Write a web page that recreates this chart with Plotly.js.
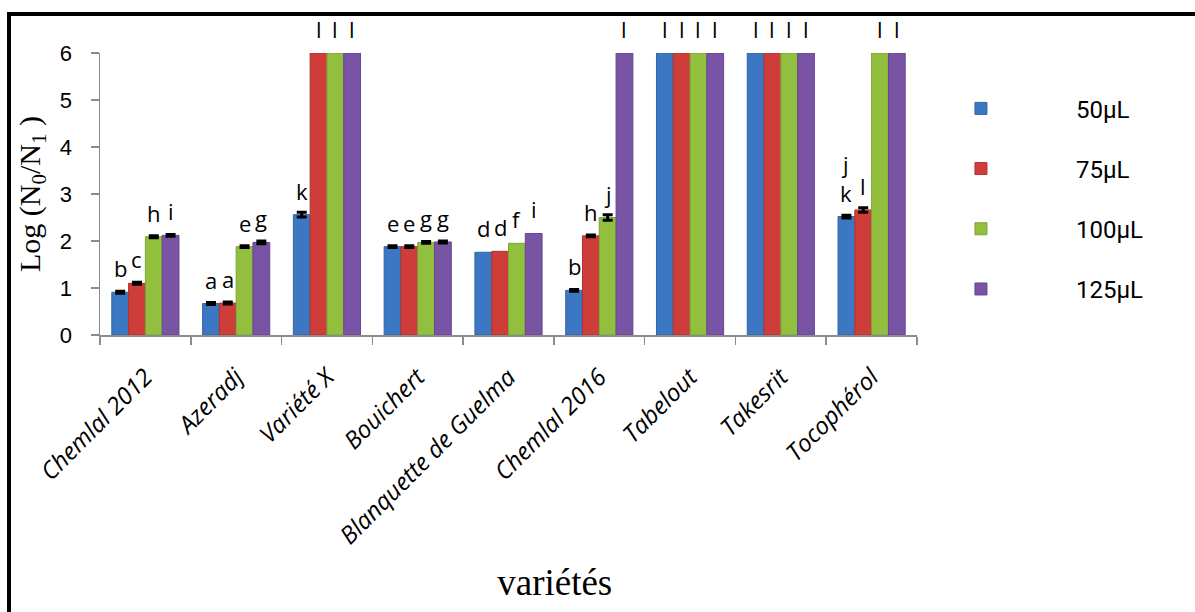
<!DOCTYPE html>
<html>
<head>
<meta charset="utf-8">
<script src="https://cdn.plot.ly/plotly-3.0.1.min.js"></script>
<style>
  html, body { margin: 0; padding: 0; background: #fff; overflow: hidden; }
  #chart { width: 1195px; height: 612px; }
  #frame { position: absolute; left: 7px; top: 12px; width: 1400px; height: 900px;
           border-left: 4px solid #000; border-top: 4px solid #000; pointer-events: none; }
</style>
</head>
<body>
<div id="chart"></div>
<div id="frame"></div>
<script>
// ---- data ----
const categories = ["Chemlal 2012", "Azeradj", "Variété X", "Bouichert", "Blanquette de Guelma",
                    "Chemlal 2016", "Tabelout", "Takesrit", "Tocophérol"];
const seriesNames = ["50µL", "75µL", "100µL", "125µL"];

const v50  = [0.91, 0.67, 2.56, 1.88, 1.76, 0.95, 6, 6, 2.52];
const v75  = [1.10, 0.68, 6, 1.88, 1.78, 2.11, 6, 6, 2.66];
const v100 = [2.09, 1.88, 6, 1.97, 1.95, 2.50, 6, 6, 6];
const v125 = [2.12, 1.97, 6, 1.98, 2.16, 6, 6, 6, 6];

// NaN = no error bar drawn
const e50  = [0.02, 0.02, 0.05, 0.02, NaN, 0.02, NaN, NaN, 0.03];
const e75  = [0.02, 0.02, NaN, 0.02, NaN, 0.02, NaN, NaN, 0.05];
const e100 = [0.02, 0.02, NaN, 0.02, NaN, 0.06, NaN, NaN, NaN];
const e125 = [0.02, 0.03, NaN, 0.02, NaN, NaN, NaN, NaN, NaN];

const l50  = ["b", "a", "k", "e", "d", "b", "l", "l", "j<br>k"];
const l75  = ["c", "a", "l", "e", "d", "h", "l", "l", "l"];
const l100 = ["h", "e", "l", "g", "f", "j", "l", "l", "l"];
const l125 = ["i", "g", "l", "g", "i", "l", "l", "l", "l"];

const colors = ["#3b77c2", "#cf3d3b", "#93bf3e", "#7a54a4"];
const lineColors = ["#3565a3", "#b03331", "#7ea236", "#654690"];

const values = [v50, v75, v100, v125];
const errors = [e50, e75, e100, e125];
const letters = [l50, l75, l100, l125];

const bargap = 0.26;

const traces = values.map((vals, j) => ({
  type: "bar",
  name: seriesNames[j],
  x: categories,
  y: vals,
  legendgroup: "g" + j,
  marker: { color: colors[j], line: { color: lineColors[j], width: 1 } },
  error_y: { type: "data", array: errors[j], visible: true, color: "#000", thickness: 3, width: 5 },
  hoverinfo: "skip",
  cliponaxis: false
}));

const annotations = [];
const bw = (1 - bargap) / 4;
values.forEach((vals, j) => {
  vals.forEach((v, i) => {
    annotations.push({
      x: i + (j - 1.5) * bw, xref: "x",
      y: v, yref: "y",
      text: letters[j][i],
      showarrow: false,
      yanchor: "bottom",
      yshift: 7,
      font: { family: "Open Sans, Liberation Sans, sans-serif", size: 22, color: "#000" }
    });
  });
});

const layout = {
  width: 1195, height: 612,
  margin: { l: 100, r: 278, t: 53, b: 277, pad: 0 },
  paper_bgcolor: "rgba(0,0,0,0)",
  plot_bgcolor: "rgba(0,0,0,0)",
  barmode: "group",
  bargap: bargap,
  bargroupgap: 0,
  showlegend: true,
  legend: {
    x: 0.962, xanchor: "left", y: 0.882, yanchor: "top",
    traceorder: "grouped", tracegroupgap: 26,
    itemwidth: 180,
    font: { family: "Roboto, Liberation Sans, sans-serif", size: 24, color: "#000" },
    bgcolor: "rgba(0,0,0,0)"
  },
  xaxis: {
    type: "category",
    showline: true, linecolor: "#8c8c8c", linewidth: 1.5,
    ticks: "outside", tickson: "boundaries", ticklen: 8, tickcolor: "#8c8c8c", tickwidth: 1.5,
    tickangle: -45,
    ticklabelstandoff: 17,
    tickfont: { family: "Open Sans, sans-serif", size: 24, color: "#000", style: "italic" },
    showgrid: false, zeroline: false,
    automargin: false,
    title: { text: "&nbsp;&nbsp;&nbsp;&nbsp;&nbsp;&nbsp;&nbsp;&nbsp;&nbsp;&nbsp;variétés", standoff: 19,
             font: { family: "Liberation Serif, Times New Roman, serif", size: 37, color: "#000" } }
  },
  yaxis: {
    range: [0, 6],
    dtick: 1,
    showline: true, linecolor: "#8c8c8c", linewidth: 1.5,
    ticks: "outside", ticklen: 8, tickcolor: "#8c8c8c", tickwidth: 1.5,
    ticklabelstandoff: 14,
    tickfont: { family: "Liberation Sans, Arial, sans-serif", size: 22, color: "#000" },
    showgrid: false, zeroline: false,
    automargin: false,
    title: { text: "Log (N<sub>0</sub>/N<sub>1</sub> )", standoff: 10,
             font: { family: "Liberation Serif, Times New Roman, serif", size: 30, color: "#000" } }
  },
  annotations: annotations
};

Plotly.newPlot("chart", traces, layout, { displayModeBar: false, staticPlot: true });
</script>
</body>
</html>
